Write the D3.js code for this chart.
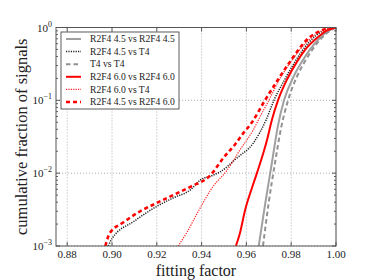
<!DOCTYPE html>
<html>
<head>
<meta charset="utf-8">
<script src="https://cdn.jsdelivr.net/npm/d3@7"></script>
<style>
  body { margin: 0; background: #fff; }
  text { font-family: "Liberation Serif", "DejaVu Serif", serif; fill: #222; }
</style>
</head>
<body>
<div id="chart"></div>
<script>
// fitting factor (x) and cumulative fraction (y)
var ffA = [0.9655, 0.9685, 0.9714, 0.9741, 0.9768, 0.981, 0.9848, 0.992, 0.997, 1.0];
var fracA = [0.001, 0.004, 0.014, 0.045, 0.10, 0.21, 0.34, 0.68, 0.91, 1.0];

var ffB = [0.8983, 0.900, 0.910, 0.920, 0.9275, 0.935, 0.9393, 0.9448, 0.9482, 0.9558, 0.963, 0.9688, 0.9723, 0.977, 0.9817, 0.988, 0.994, 0.9985];
var fracB = [0.001, 0.00126, 0.0022, 0.0035, 0.0046, 0.0059, 0.0080, 0.0093, 0.0104, 0.0162, 0.0257, 0.054, 0.10, 0.19, 0.34, 0.63, 0.89, 1.0];

var ffC = [0.9674, 0.970, 0.9728, 0.9755, 0.9786, 0.9825, 0.9861, 0.9929, 0.9975, 1.0];
var fracC = [0.001, 0.004, 0.014, 0.042, 0.10, 0.21, 0.34, 0.68, 0.91, 1.0];

var ffD = [0.9553, 0.9571, 0.9594, 0.9625, 0.9647, 0.9692, 0.9714, 0.9741, 0.978, 0.9826, 0.9861, 0.992, 0.996, 1.0];
var fracD = [0.001, 0.0015, 0.0031, 0.0063, 0.010, 0.0285, 0.054, 0.10, 0.19, 0.34, 0.49, 0.74, 0.91, 1.0];

var ffE = [0.9295, 0.9335, 0.938, 0.945, 0.9514, 0.9572, 0.963, 0.9665, 0.970, 0.975, 0.9799, 0.988, 0.994, 0.998];
var fracE = [0.001, 0.00155, 0.0028, 0.0065, 0.011, 0.021, 0.039, 0.063, 0.10, 0.20, 0.34, 0.68, 0.91, 1.0];

var ffF = [0.897, 0.899, 0.905, 0.9126, 0.920, 0.9273, 0.935, 0.9438, 0.9496, 0.955, 0.9585, 0.9625, 0.9683, 0.974, 0.9795, 0.987, 0.995, 0.9973];
var fracF = [0.001, 0.0015, 0.0021, 0.0030, 0.0039, 0.0050, 0.0065, 0.0093, 0.016, 0.025, 0.035, 0.050, 0.10, 0.19, 0.34, 0.68, 0.95, 1.0];

var names = ["R2F4 4.5 vs R2F4 4.5", "R2F4 4.5 vs T4", "T4 vs T4",
             "R2F4 6.0 vs R2F4 6.0", "R2F4 6.0 vs T4", "R2F4 4.5 vs R2F4 6.0"];
var xTicks = [0.88, 0.90, 0.92, 0.94, 0.96, 0.98, 1.00];
var yTicks = [0.001, 0.01, 0.1, 1];
var yExp = ["\u22123", "\u22122", "\u22121", "0"];

var styles = [
  {color: "#a0a0a0", width: 2, dash: null},
  {color: "#222222", width: 1.5, dash: "1.2,1.2"},
  {color: "#929292", width: 2, dash: "4.5,3"},
  {color: "#ff0000", width: 2, dash: null},
  {color: "#ff2020", width: 1.2, dash: "1.2,1.2"},
  {color: "#ff0000", width: 2.6, dash: "4,3"}
];

var series = [[ffA, fracA], [ffB, fracB], [ffC, fracC], [ffD, fracD], [ffE, fracE], [ffF, fracF]]
  .map(function(s, i) {
    return {name: names[i], style: styles[i],
            pts: s[0].map(function(v, j) { return [v, s[1][j]]; })};
  });

var W = 374, H = 280;
var margin = {top: 27.5, right: 38, bottom: 34, left: 56};
var width = W - margin.left - margin.right,
    height = H - margin.top - margin.bottom;

var svg = d3.select("#chart").append("svg")
    .attr("width", W).attr("height", H);
var g = svg.append("g")
    .attr("transform", "translate(" + margin.left + "," + margin.top + ")");

var x = d3.scaleLinear().domain([0.875, 1.0]).range([0, width]);
var y = d3.scaleLog().domain([0.001, 1]).range([height, 0]);

g.append("defs").append("clipPath").attr("id", "clip")
  .append("rect").attr("width", width).attr("height", height);

// grid
g.append("g").selectAll("line").data(xTicks).enter().append("line")
    .attr("x1", function(d) { return x(d); }).attr("x2", function(d) { return x(d); })
    .attr("y1", 0).attr("y2", height)
    .attr("stroke", "#999").attr("stroke-width", 0.8).attr("stroke-dasharray", "1,2");
g.append("g").selectAll("line").data(yTicks).enter().append("line")
    .attr("x1", 0).attr("x2", width)
    .attr("y1", function(d) { return y(d); }).attr("y2", function(d) { return y(d); })
    .attr("stroke", "#999").attr("stroke-width", 0.8).attr("stroke-dasharray", "1,2");

// lines
var line = d3.line()
    .x(function(d) { return x(d[0]); })
    .y(function(d) { return y(d[1]); })
    .curve(d3.curveMonotoneX);

g.append("g").attr("clip-path", "url(#clip)").selectAll("path")
    .data(series).enter().append("path")
    .attr("d", function(d) { return line(d.pts); })
    .attr("fill", "none")
    .attr("stroke", function(d) { return d.style.color; })
    .attr("stroke-width", function(d) { return d.style.width; })
    .attr("stroke-dasharray", function(d) { return d.style.dash; });

// ticks, inward on all sides
var minor = [];
[0.001, 0.01, 0.1].forEach(function(b) {
  for (var k = 2; k <= 9; k++) minor.push(b * k);
});
var tk = g.append("g").attr("stroke", "#333").attr("stroke-width", 0.8);
xTicks.forEach(function(d) {
  tk.append("line").attr("x1", x(d)).attr("x2", x(d)).attr("y1", height).attr("y2", height - 4);
  tk.append("line").attr("x1", x(d)).attr("x2", x(d)).attr("y1", 0).attr("y2", 4);
});
yTicks.forEach(function(d) {
  tk.append("line").attr("x1", 0).attr("x2", 4).attr("y1", y(d)).attr("y2", y(d));
  tk.append("line").attr("x1", width).attr("x2", width - 4).attr("y1", y(d)).attr("y2", y(d));
});
minor.forEach(function(d) {
  tk.append("line").attr("x1", 0).attr("x2", 2).attr("y1", y(d)).attr("y2", y(d));
  tk.append("line").attr("x1", width).attr("x2", width - 2).attr("y1", y(d)).attr("y2", y(d));
});

// frame
g.append("rect").attr("width", width).attr("height", height)
    .attr("fill", "none").attr("stroke", "#555").attr("stroke-width", 1);

// tick labels
g.append("g").selectAll("text").data(xTicks).enter().append("text")
    .attr("x", function(d) { return x(d); }).attr("y", height + 12)
    .attr("text-anchor", "middle").attr("font-size", 11)
    .text(function(d) { return d.toFixed(2); });

var yl = g.append("g").selectAll("text").data(yTicks).enter().append("text")
    .attr("x", -4).attr("y", function(d) { return y(d) + 4; })
    .attr("text-anchor", "end").attr("font-size", 11);
yl.append("tspan").text("10");
yl.append("tspan").attr("dy", -5).attr("font-size", 8)
    .text(function(d, i) { return yExp[i]; });

// axis titles
g.append("text").attr("x", width / 2).attr("y", height + 30)
    .attr("text-anchor", "middle").attr("font-size", 16).text("fitting factor");
g.append("text").attr("transform", "translate(" + (-29) + "," + (height / 2) + ") rotate(-90)")
    .attr("text-anchor", "middle").attr("font-size", 16.5).text("cumulative fraction of signals");

// legend
var lg = g.append("g").attr("transform", "translate(5,4.5)");
lg.append("rect").attr("width", 118).attr("height", 77)
    .attr("fill", "#fff").attr("stroke", "#333").attr("stroke-width", 0.8);
var items = lg.selectAll("g.item").data(series).enter().append("g")
    .attr("transform", function(d, i) { return "translate(0," + (7 + i * 12.6) + ")"; });
items.append("line").attr("x1", 5).attr("x2", 20).attr("y1", 0).attr("y2", 0)
    .attr("stroke", function(d) { return d.style.color; })
    .attr("stroke-width", function(d) { return d.style.width; })
    .attr("stroke-dasharray", function(d) { return d.style.dash; });
items.append("text").attr("x", 29).attr("y", 3.2).attr("font-size", 9.6)
    .text(function(d) { return d.name; });
</script>
</body>
</html>
